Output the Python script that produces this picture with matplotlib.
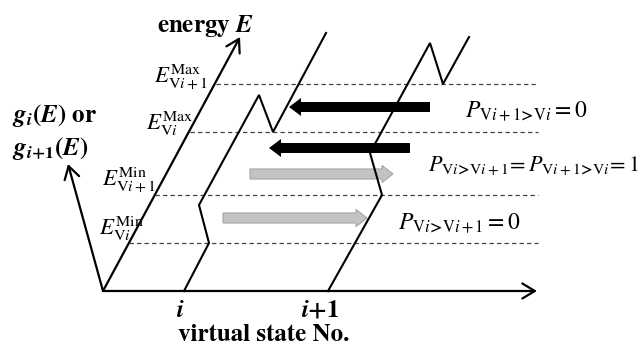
import matplotlib
matplotlib.use("Agg")
import matplotlib.pyplot as plt
from matplotlib.patches import FancyArrow, FancyArrowPatch

plt.rcParams['mathtext.fontset'] = 'stix'
plt.rcParams['font.family'] = ['STIXGeneral', 'Liberation Serif', 'DejaVu Serif']

W, H = 643, 347
# ---- diagram geometry (pixel coordinates) ----
origin = (103, 291)
x_axis_end = (537, 291)
e_axis_end = (240, 37)
g_axis_end = (68, 164)

# energy levels (y) and left start (on energy axis)
level_y = [84, 132, 195, 243]
level_x0 = [216, 190, 155, 129]
level_x1 = 538

curve_i_x = [184, 209, 199, 259, 273, 326]
curve_i_y = [291, 243, 205, 95, 132, 33]
curve_i1_x = [328, 382, 370, 430, 443, 469]
curve_i1_y = [291, 195, 153, 43, 84, 37]

black_arrows = [(430, 289, 107), (410, 269, 148)]   # tail x, tip x, y
gray_arrows = [(250, 393, 174), (223, 367, 218)]

level_labels = [r"$E^{\mathrm{Max}}_{\mathrm{V}i+1}$", r"$E^{\mathrm{Max}}_{\mathrm{V}i}$",
                r"$E^{\mathrm{Min}}_{\mathrm{V}i+1}$", r"$E^{\mathrm{Min}}_{\mathrm{V}i}$"]
level_label_pos = [(208, 83), (193, 130), (156, 186), (144, 235)]

arr = r"\!\mathbf{>}\!"
p_labels = [r"$P_{\mathrm{V}i+1" + arr + r"\mathrm{V}i} = 0$",
            r"$P_{\mathrm{V}i" + arr + r"\mathrm{V}i+1}\!= P_{\mathrm{V}i+1" + arr + r"\mathrm{V}i}\!= 1$",
            r"$P_{\mathrm{V}i" + arr + r"\mathrm{V}i+1} = 0$"]
p_label_pos = [(465, 117), (428, 172), (398, 229)]
p_label_size = [17, 16, 17]

tick_labels = [r"$\mathbfit{i}$", r"$\mathbfit{i}\mathbf{+1}$"]
tick_x = [180, 320]

fig = plt.figure(figsize=(W / 100, H / 100), dpi=100)
ax = fig.add_axes([0, 0, 1, 1])
ax.set_xlim(0, W)
ax.set_ylim(H, 0)
ax.axis('off')

# dashed levels
for y, x0 in zip(level_y, level_x0):
    ax.plot([x0, level_x1], [y, y], color='#444444', lw=0.9, ls=(0, (3.5, 2.5)))

# axes with open arrowheads
for end in [x_axis_end, e_axis_end, g_axis_end]:
    ax.add_patch(FancyArrowPatch(origin, end, arrowstyle='->,head_length=5,head_width=3',
                                 color='k', lw=1.6, shrinkA=0, shrinkB=0, mutation_scale=1.8))

# curves
ax.plot(curve_i_x, curve_i_y, color='k', lw=1.5, solid_joinstyle='miter')
ax.plot(curve_i1_x, curve_i1_y, color='k', lw=1.5, solid_joinstyle='miter')

# arrows
for xt, xh, y in black_arrows:
    ax.add_patch(FancyArrow(xt, y, xh - xt, 0, width=10, head_width=18, head_length=12,
                            length_includes_head=True, color='black', lw=0))
for xt, xh, y in gray_arrows:
    ax.add_patch(FancyArrow(xt, y, xh - xt, 0, width=10, head_width=17, head_length=11,
                            length_includes_head=True, facecolor='#c3c3c3', edgecolor='#a5a5a5', lw=0.8))

# texts
ax.text(205, 32, r"energy $\mathbfit{E}$", fontsize=18, fontweight='bold', ha='center', va='baseline')
ax.text(12, 122, r"$\mathbfit{g}_{\mathbfit{i}}\mathbf{(}\mathbfit{E}\mathbf{)}$ or", fontsize=18,
        fontweight='bold', ha='left', va='baseline')
ax.text(12, 155, r"$\mathbfit{g}_{\mathbfit{i}\mathbf{+1}}\mathbf{(}\mathbfit{E}\mathbf{)}$", fontsize=18,
        fontweight='bold', ha='left', va='baseline')

for lab, (x, y) in zip(level_labels, level_label_pos):
    ax.text(x, y, lab, fontsize=16.5, ha='right', va='baseline')
for lab, (x, y), fs in zip(p_labels, p_label_pos, p_label_size):
    ax.text(x, y, lab, fontsize=fs, ha='left', va='baseline')

for lab, x in zip(tick_labels, tick_x):
    ax.text(x, 317, lab, fontsize=18, ha='center', va='baseline')
ax.text(178, 341, "virtual state No.", fontsize=18, fontweight='bold', ha='left', va='baseline')

fig.savefig("out.png", dpi=100)
